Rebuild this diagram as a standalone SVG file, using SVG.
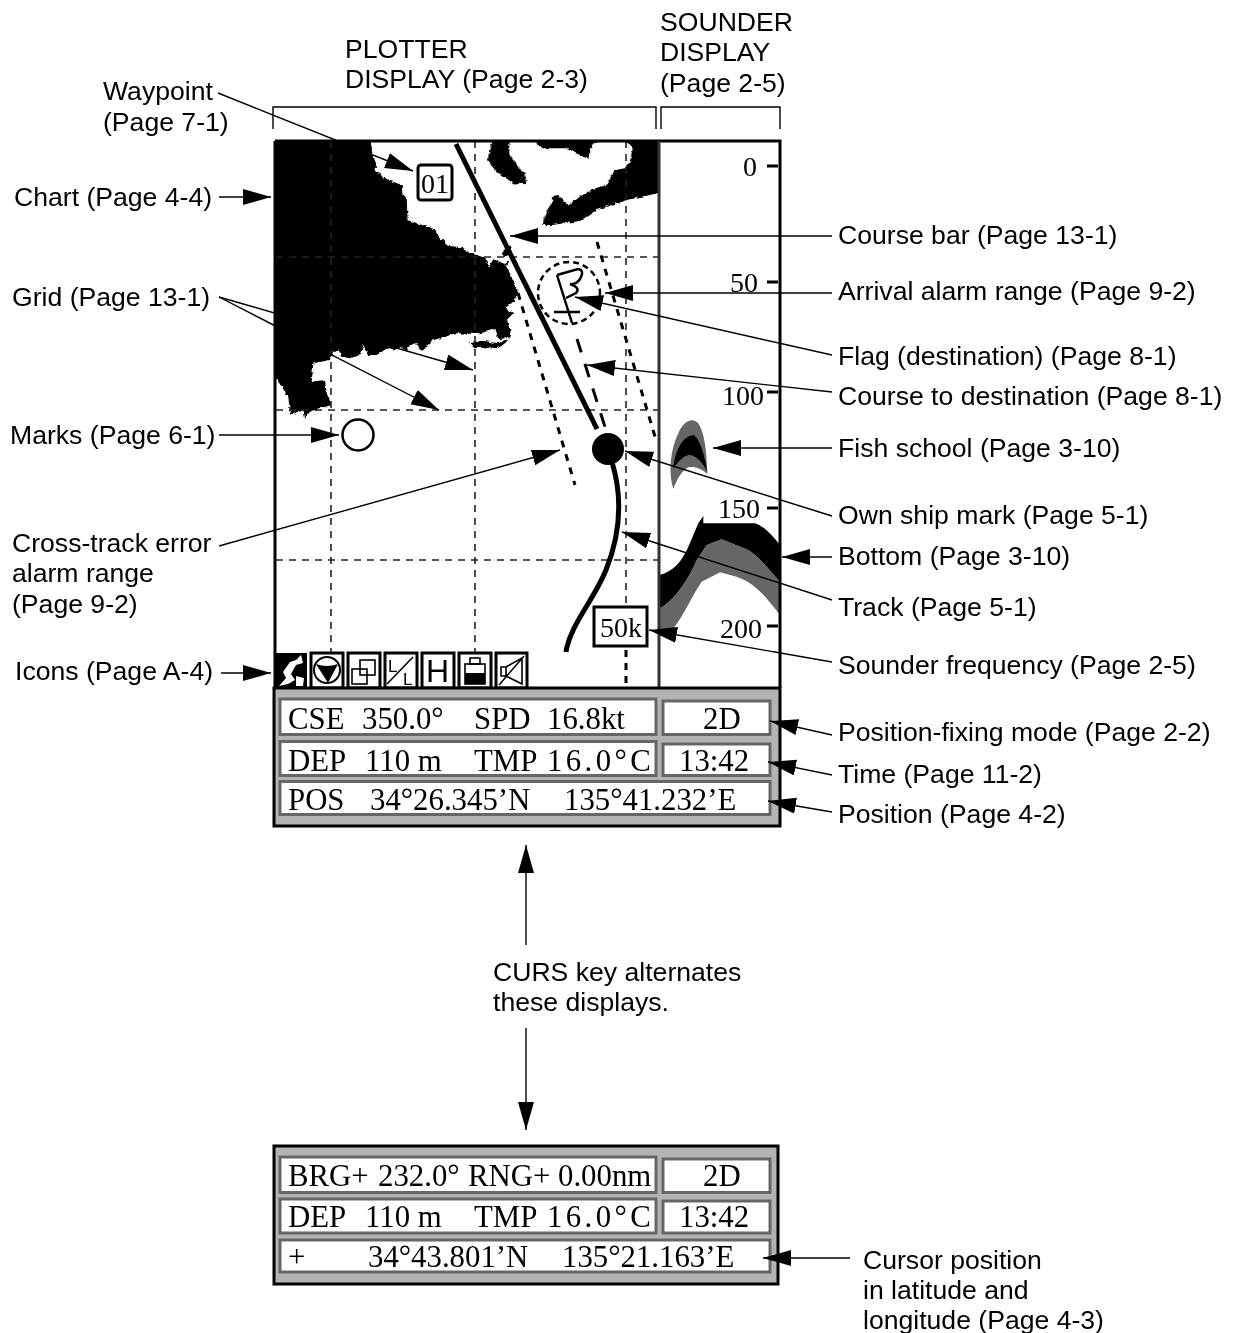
<svg xmlns="http://www.w3.org/2000/svg" width="1234" height="1333" viewBox="0 0 1234 1333">
<style>
.l{font-family:"Liberation Sans",Arial,sans-serif;font-size:26.6px;fill:#000}
.t{font-family:"Liberation Serif","Times New Roman",serif;font-size:30.8px;fill:#000}
.d{font-family:"Liberation Serif","Times New Roman",serif;font-size:28px;fill:#000}
.c{stroke:#000;stroke-width:1.4;fill:none;marker-end:url(#a)}
.n{stroke:#000;stroke-width:1.4;fill:none}
.g{stroke:#222;stroke-width:1.6;stroke-dasharray:7 6;fill:none}
.x{stroke:#000;stroke-width:3;stroke-dasharray:7 7;fill:none}
.b{fill:#fff;stroke:#666;stroke-width:3}
.i{fill:#fff;stroke:#000;stroke-width:3}
.s{fill:none;stroke:#000;stroke-width:1.6}
</style>
<defs>
<marker id="a" markerUnits="userSpaceOnUse" markerWidth="30" markerHeight="18" refX="28" refY="8" orient="auto">
<path d="M0 0L28 8L0 16Z" fill="#000"/>
</marker>
<filter id="rough" x="-2%" y="-2%" width="104%" height="104%">
<feTurbulence type="fractalNoise" baseFrequency=".28" numOctaves="2" seed="4"/>
<feDisplacementMap in="SourceGraphic" scale="4" xChannelSelector="R" yChannelSelector="G"/>
</filter>
<clipPath id="pl"><rect x="275" y="141" width="384" height="547"/></clipPath>
</defs>
<rect width="1234" height="1333" fill="#fff"/>

<g id="brackets" class="n">
<path class="n" d="M273 129V107H656V129"/>
<path class="n" d="M661 129V107H780V129"/>
</g>

<g id="plotter">
<g id="chart" fill="#000" clip-path="url(#pl)">
<g filter="url(#rough)">
<g transform="translate(265 130) scale(.3333)">
<path d="M15 20L315 20L322 70L333 100L332 125L370 150L410 165L412 190L425 205L428 270L480 288L510 298L522 320L552 348L590 352L625 372L660 383L672 410L685 388L720 402L745 450L760 490L745 515L720 535L745 550L725 570L735 590L738 622L700 628L692 597L640 612L570 610L500 632L470 665L455 640L435 645L425 665L405 650L390 660L375 655L355 660L335 675L310 675L295 645L287 675L255 685L230 680L220 658L200 675L195 690L145 700L140 755L180 750L185 790L200 825L165 835L135 845L120 865L115 840L90 850L75 855L70 800L35 748L15 748Z"/>
<path d="M615 640L650 632L700 640L735 625L720 640L695 658L650 650L625 652Z"/>
<path d="M705 375L735 345L740 365L720 378Z"/>
<path d="M718 402L735 392L728 405Z"/>
</g>
<g transform="translate(480 135) scale(.3333)">
<path d="M38 15L88 15L88 60L135 120L140 148L100 145L50 110L22 75Z"/>
<path d="M160 15L185 40L255 40L325 72L335 30L360 15Z"/>
<path d="M435 15L458 40L450 80L435 100L405 105L380 150L345 160L290 190L265 212L235 180L222 182L185 270L215 270L300 258L350 225L440 195L535 175L550 175L550 15Z"/>
</g>
</g>
</g>
<g id="grid">
<path class="g" d="M331 141V688M475 141V688M626 141V607M276 257H658M276 410H658M276 560H658"/>
<path d="M626 650V688" fill="none" stroke="#000" stroke-width="3" stroke-dasharray="7 6"/>
</g>
<g id="xte-range">
<path class="x" d="M518 293L575 485M597 242L656 440"/>
</g>
<g id="course-to-destination">
<path d="M577 339L605 427" fill="none" stroke="#000" stroke-width="3" stroke-dasharray="14 12"/>
</g>
<g id="flag" fill="none" stroke="#000">
<circle cx="569" cy="293" r="31" stroke-width="2.5" stroke-dasharray="6 4"/>
<path d="M557 275L572 323M554 312H580" stroke-width="2.5"/>
<path d="M557 275L578 269Q585 270 580 279Q576 285 570 284Q581 288 576 293L566 298" stroke-width="2.5"/>
</g>
<g id="own-ship">
<path d="M456 144L597 429" fill="none" stroke="#000" stroke-width="5"/>
<circle cx="608" cy="449" r="16" fill="#000"/>
<path d="M612 462C622 495 622 530 606 570C594 600 570 625 566 652" fill="none" stroke="#000" stroke-width="5"/>
</g>
<g id="waypoint">
<rect x="418" y="165" width="34" height="35" rx="3" fill="#fff" stroke="#000" stroke-width="3"/>
<text class="d" x="421" y="193">01</text>
</g>
<g id="mark"><circle cx="358" cy="435" r="15.5" fill="#fff" stroke="#000" stroke-width="2.5"/></g>
<g id="frequency">
<rect x="594" y="607" width="53" height="39" fill="#fff" stroke="#000" stroke-width="3"/>
<text class="d" x="600" y="637">50k</text>
</g>
</g>

<g id="sounder">
<g transform="translate(560 380) scale(.3333)">
<path d="M340 327C325 280 330 210 355 160C370 125 395 110 415 130C435 160 440 220 442 282C425 265 400 258 385 262C365 272 350 300 340 327Z" fill="#666"/>
<path d="M340 265C345 215 365 170 400 165C420 175 435 230 442 275C425 240 400 222 385 225C365 232 350 250 340 265Z" fill="#000"/>
<path d="M298 685C340 665 385 600 410 540L440 495L485 478L565 510C600 530 635 580 660 605L660 705C625 660 590 610 530 590L480 577L425 605C400 640 370 710 340 745L298 760Z" fill="#666"/>
<path d="M298 585C340 575 365 545 385 500L415 430L430 408L430 430L585 430C615 440 640 470 660 495L660 605C635 580 600 530 565 510L485 478L440 495L410 540C385 600 340 665 298 685Z" fill="#000"/>
</g>
<path d="M767 166H778M767 282H778M767 392H778M767 508H778M767 626H778" stroke="#000" stroke-width="3" fill="none"/>
<text class="d" x="743" y="176">0</text>
<text class="d" x="730" y="292">50</text>
<text class="d" x="722" y="405">100</text>
<text class="d" x="718" y="518">150</text>
<text class="d" x="720" y="638">200</text>
</g>

<g id="frame" fill="none">
<path d="M275 141H780V688M275 141V688" stroke="#000" stroke-width="3"/>
<path d="M659 141V688" stroke="#333" stroke-width="3"/>
</g>

<g id="icons">
<g id="icon1"><rect x="274" y="653" width="33" height="35" fill="#000"/>
<path d="M301 655L303 663L296 665L291 674L295 680L288 684L279 686L286 678L283 672L290 662L296 660Z" fill="#fff"/><path d="M296 676L304 678L303 686L296 686Z" fill="#fff"/><rect x="305" y="653" width="2" height="35" fill="#000"/></g>
<g id="icon2"><rect class="i" x="311" y="653" width="32" height="35"/><circle cx="327" cy="670" r="13" fill="#fff" stroke="#000" stroke-width="2"/><path d="M316 664Q327 668 338 664L328 683Z" fill="#000"/></g>
<g id="icon3"><rect class="i" x="348" y="653" width="32" height="35"/><rect class="s" x="352" y="669" width="15" height="15"/><rect class="s" x="360" y="660" width="15" height="15"/></g>
<g id="icon4"><rect class="i" x="385" y="653" width="32" height="35"/><path class="s" d="M387 684L413 657"/><text x="388" y="672" font-family="Liberation Sans,sans-serif" font-size="17">L</text><text x="403" y="685" font-family="Liberation Sans,sans-serif" font-size="17">L</text></g>
<g id="icon5"><rect class="i" x="422" y="653" width="32" height="35"/><text x="426" y="682" font-family="Liberation Sans,sans-serif" font-size="32">H</text></g>
<g id="icon6"><rect class="i" x="459" y="653" width="32" height="35"/><rect class="s" x="465" y="664" width="20" height="20"/><rect class="s" x="470" y="658" width="10" height="6"/><rect x="465" y="673" width="20" height="11" fill="#000"/></g>
<g id="icon7"><rect class="i" x="496" y="653" width="31" height="35"/><path class="s" d="M501 667H506V676H501ZM506 667L522 658V684L506 676M499 685L524 656"/></g>
</g>

<g id="panel-top">
<rect x="274" y="688" width="506" height="138" fill="#b3b3b3" stroke="#000" stroke-width="3"/>
<rect class="b" x="280" y="699" width="376" height="35.5"/>
<rect class="b" x="663" y="701" width="107" height="33.5"/>
<rect class="b" x="280" y="741.5" width="376" height="34"/>
<rect class="b" x="663" y="744" width="107" height="31.5"/>
<rect class="b" x="280" y="781.5" width="490" height="33"/>
<text class="t" x="288" y="729">CSE</text><text class="t" x="362" y="729">350.0°</text><text class="t" x="474" y="729">SPD</text><text class="t" x="547" y="729">16.8kt</text><text class="t" x="703" y="729">2D</text>
<text class="t" x="288" y="770.5">DEP</text><text class="t" x="365" y="770.5">110 m</text><text class="t" x="474" y="770.5">TMP</text><text class="t" x="547" y="770.5" letter-spacing="3.4">16.0°C</text><text class="t" x="679" y="770.5">13:42</text>
<text class="t" x="288" y="810">POS</text><text class="t" x="370" y="810">34°26.345’N</text><text class="t" x="564" y="810">135°41.232’E</text>
</g>

<g id="panel-bottom">
<rect x="274" y="1146" width="504" height="138" fill="#b3b3b3" stroke="#000" stroke-width="3"/>
<rect class="b" x="280" y="1157" width="376" height="35.5"/>
<rect class="b" x="663" y="1159" width="107" height="33.5"/>
<rect class="b" x="280" y="1199" width="376" height="34"/>
<rect class="b" x="663" y="1201" width="107" height="32"/>
<rect class="b" x="280" y="1240" width="490" height="32"/>
<text class="t" x="288" y="1186">BRG+</text><text class="t" x="378" y="1186">232.0°</text><text class="t" x="468" y="1186">RNG+</text><text class="t" x="558" y="1186">0.00nm</text><text class="t" x="703" y="1186">2D</text>
<text class="t" x="288" y="1227">DEP</text><text class="t" x="365" y="1227">110 m</text><text class="t" x="474" y="1227">TMP</text><text class="t" x="547" y="1227" letter-spacing="3.4">16.0°C</text><text class="t" x="679" y="1227">13:42</text>
<text class="t" x="288" y="1267">+</text><text class="t" x="368" y="1267">34°43.801’N</text><text class="t" x="562" y="1267">135°21.163’E</text>
</g>

<g id="connectors">
<path class="c" d="M218 93L413 171"/>
<path class="c" d="M219 197H271"/>
<path class="c" d="M219 297L473 370"/>
<path class="c" d="M219 297L439 410"/>
<path class="c" d="M219 435H339"/>
<path class="c" d="M219 546L560 450"/>
<path class="c" d="M221 673H271"/>
<path class="c" d="M832 236H510"/>
<path class="c" d="M832 293H605"/>
<path class="c" d="M832 355L575 297"/>
<path class="c" d="M832 392L587 365"/>
<path class="c" d="M832 448H713"/>
<path class="c" d="M832 516L625 451"/>
<path class="c" d="M832 557H782"/>
<path class="c" d="M832 600L622 532"/>
<path class="c" d="M832 662L649 630"/>
<path class="c" d="M832 735L770 721"/>
<path class="c" d="M832 775L768 762"/>
<path class="c" d="M832 812L768 801"/>
<path class="c" d="M526 945V845"/>
<path class="c" d="M526 1028V1130"/>
<path class="c" d="M850 1258H763"/>
</g>

<g id="labels">
<text class="l" x="345" y="58">PLOTTER</text><text class="l" x="345" y="88">DISPLAY (Page 2-3)</text>
<text class="l" x="660" y="31">SOUNDER</text><text class="l" x="660" y="61">DISPLAY</text><text class="l" x="660" y="92">(Page 2-5)</text>
<text class="l" x="103" y="100">Waypoint</text><text class="l" x="103" y="131">(Page 7-1)</text>
<text class="l" x="14" y="206">Chart (Page 4-4)</text>
<text class="l" x="12" y="306">Grid (Page 13-1)</text>
<text class="l" x="10" y="444">Marks (Page 6-1)</text>
<text class="l" x="12" y="552">Cross-track error</text><text class="l" x="12" y="582">alarm range</text><text class="l" x="12" y="613">(Page 9-2)</text>
<text class="l" x="15" y="680">Icons (Page A-4)</text>
<text class="l" x="838" y="244">Course bar (Page 13-1)</text>
<text class="l" x="838" y="300">Arrival alarm range (Page 9-2)</text>
<text class="l" x="838" y="365">Flag (destination) (Page 8-1)</text>
<text class="l" x="838" y="405">Course to destination (Page 8-1)</text>
<text class="l" x="838" y="457">Fish school (Page 3-10)</text>
<text class="l" x="838" y="524">Own ship mark (Page 5-1)</text>
<text class="l" x="838" y="565">Bottom (Page 3-10)</text>
<text class="l" x="838" y="616">Track (Page 5-1)</text>
<text class="l" x="838" y="674">Sounder frequency (Page 2-5)</text>
<text class="l" x="838" y="741">Position-fixing mode (Page 2-2)</text>
<text class="l" x="838" y="783">Time (Page 11-2)</text>
<text class="l" x="838" y="823">Position (Page 4-2)</text>
<text class="l" x="493" y="981">CURS key alternates</text><text class="l" x="493" y="1011">these displays.</text>
<text class="l" x="863" y="1269">Cursor position</text><text class="l" x="863" y="1299">in latitude and</text><text class="l" x="863" y="1329">longitude (Page 4-3)</text>
</g>
</svg>
